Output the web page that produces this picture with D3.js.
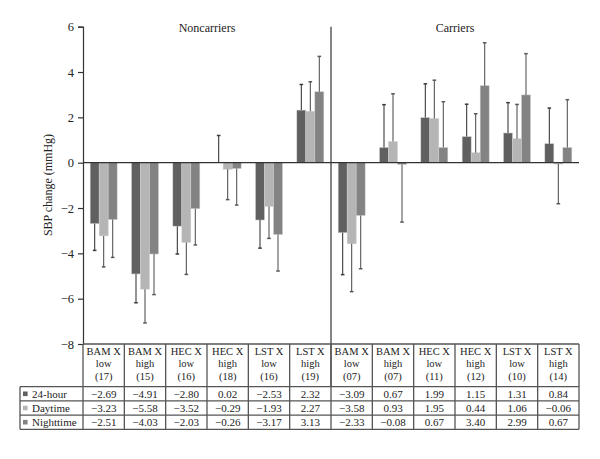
<!DOCTYPE html>
<html><head><meta charset="utf-8">
<script src="https://cdn.jsdelivr.net/npm/d3@7/dist/d3.min.js"></script>
<style>body{margin:0;background:#fff}svg{display:block}text{font-family:"Liberation Serif","DejaVu Serif",serif;fill:#222}</style>
</head><body><svg id="c" width="600" height="459"></svg>
<script>
const line1 = ["BAM X","BAM X","HEC X","HEC X","LST X","LST X","BAM X","BAM X","HEC X","HEC X","LST X","LST X"];
const line2 = ["low","high","low","high","low","high","low","high","low","high","low","high"];
const groupN = ["(17)","(15)","(16)","(18)","(16)","(19)","(07)","(07)","(11)","(12)","(10)","(14)"];
const panels = ["Noncarriers","Carriers"];
const series = ["24-hour","Daytime","Nighttime"];
const values24 = [-2.69,-4.91,-2.80,0.02,-2.53,2.32,-3.09,0.67,1.99,1.15,1.31,0.84];
const valuesDay = [-3.23,-5.58,-3.52,-0.29,-1.93,2.27,-3.58,0.93,1.95,0.44,1.06,-0.06];
const valuesNight = [-2.51,-4.03,-2.03,-0.26,-3.17,3.13,-2.33,-0.08,0.67,3.40,2.99,0.67];
const err24 = [1.18,1.27,1.23,1.18,1.24,1.13,1.85,1.89,1.49,1.43,1.34,1.57];
const errDay = [1.37,1.49,1.41,1.34,1.41,1.30,2.11,2.11,1.69,1.72,1.51,1.75];
const errNight = [1.67,1.79,1.60,1.61,1.61,1.56,2.35,2.54,2.02,1.89,1.82,2.11];
const yTicks = [6,4,2,0,-2,-4,-6,-8];

const colors = ["#606060","#b5b5b5","#838383"];
const errColors = ["#3c3c3c","#555","#5a5a5a"];
const vals = [values24, valuesDay, valuesNight];
const errs = [err24, errDay, errNight];

const svg = d3.select("#c");
const x = d3.scaleBand().domain(d3.range(12)).range([83, 579]);
const y = d3.scaleLinear().domain([-8, 6]).range([344, 26.7]);
const inner = d3.scaleBand().domain(d3.range(3)).range([0, 27]);
const barOff = (x.bandwidth() - 27) / 2;
const fmt = v => (v < 0 ? "\u2212" + Math.abs(v).toFixed(2) : v.toFixed(2));

// y axis
const ax = svg.append("g").attr("transform", "translate(83,0)")
  .call(d3.axisLeft(y).tickValues(yTicks).tickSize(5).tickPadding(4).tickFormat(d => d < 0 ? "\u2212" + Math.abs(d) : d));
ax.select(".domain").attr("stroke", "#333").attr("stroke-width", 1.2);
ax.selectAll(".tick line").attr("stroke", "#333").attr("stroke-width", 1.2);
ax.selectAll(".tick text").style("font-family", "'Liberation Serif',serif").style("font-size", "12.5px").attr("fill", "#222");

svg.append("text").attr("transform", "translate(52,185) rotate(-90)").attr("text-anchor", "middle")
  .style("font-size", "12px").text("SBP change (mmHg)");

// bars
series.forEach((s, si) => {
  const g = svg.append("g");
  g.selectAll("rect").data(vals[si]).join("rect")
    .attr("x", (d, i) => x(i) + barOff + inner(si))
    .attr("width", inner.bandwidth())
    .attr("y", d => y(Math.max(0, d)))
    .attr("height", d => Math.abs(y(d) - y(0)))
    .attr("fill", colors[si]).attr("stroke", "#cfcfcf").attr("stroke-width", 0.5);
});
// error bars
series.forEach((s, si) => {
  const g = svg.append("g").attr("stroke", errColors[si]);
  vals[si].forEach((v, i) => {
    const cx = x(i) + barOff + inner(si) + inner.bandwidth() / 2;
    const end = v >= 0 ? v + errs[si][i] : v - errs[si][i];
    g.append("line").attr("x1", cx).attr("x2", cx).attr("y1", y(v)).attr("y2", y(end)).attr("stroke-width", 1.1);
    g.append("line").attr("x1", cx - 1.8).attr("x2", cx + 1.8).attr("y1", y(end)).attr("y2", y(end)).attr("stroke-width", 1.5);
  });
});

// zero line
svg.append("line").attr("x1", 83).attr("x2", 579).attr("y1", y(0)).attr("y2", y(0)).attr("stroke", "#333").attr("stroke-width", 1.2);
// divider
svg.append("line").attr("x1", x(6)).attr("x2", x(6)).attr("y1", y(6)).attr("y2", 386.7).attr("stroke", "#333").attr("stroke-width", 1.2);

// panel titles
panels.forEach((p, k) => {
  const cx = (x(k * 6) + x(k * 6 + 5) + x.bandwidth()) / 2;
  svg.append("text").attr("x", cx).attr("y", 32).attr("text-anchor", "middle").style("font-size", "12px").text(p);
});

// table
const tbl = svg.append("g");
const lineC = "#555";
const rowTop = 386.7, rowH = 14.2;
tbl.append("line").attr("x1", 83).attr("x2", 579).attr("y1", 344).attr("y2", 344).attr("stroke", lineC).attr("stroke-width", 1.3);
d3.range(13).forEach(i => {
  const xx = i < 12 ? x(i) : 579;
  tbl.append("line").attr("x1", xx).attr("x2", xx).attr("y1", 344).attr("y2", rowTop + 3 * rowH).attr("stroke", lineC).attr("stroke-width", 1.3);
});
tbl.append("line").attr("x1", 20).attr("x2", 20).attr("y1", rowTop).attr("y2", rowTop + 3 * rowH).attr("stroke", lineC).attr("stroke-width", 1.3);
d3.range(4).forEach(r => {
  tbl.append("line").attr("x1", 20).attr("x2", 579).attr("y1", rowTop + r * rowH).attr("y2", rowTop + r * rowH).attr("stroke", lineC).attr("stroke-width", 1.3);
});
d3.range(12).forEach(i => {
  const cx = x(i) + x.bandwidth() / 2;
  [[line1[i], 354.5], [line2[i], 366.5], [groupN[i], 380]].forEach(([t, yy]) => {
    tbl.append("text").attr("x", cx).attr("y", yy).attr("text-anchor", "middle").style("font-size", "10.5px").text(t);
  });
});
series.forEach((s, si) => {
  const cy = rowTop + si * rowH + rowH / 2;
  tbl.append("rect").attr("x", 23).attr("y", cy - 2.3).attr("width", 4.6).attr("height", 4.6).attr("fill", colors[si]);
  tbl.append("text").attr("x", 32).attr("y", cy + 3.8).style("font-size", "11px").text(s);
  vals[si].forEach((v, i) => {
    tbl.append("text").attr("x", x(i) + x.bandwidth() / 2).attr("y", cy + 3.8).attr("text-anchor", "middle").style("font-size", "11px").text(fmt(v));
  });
});
</script></body></html>
